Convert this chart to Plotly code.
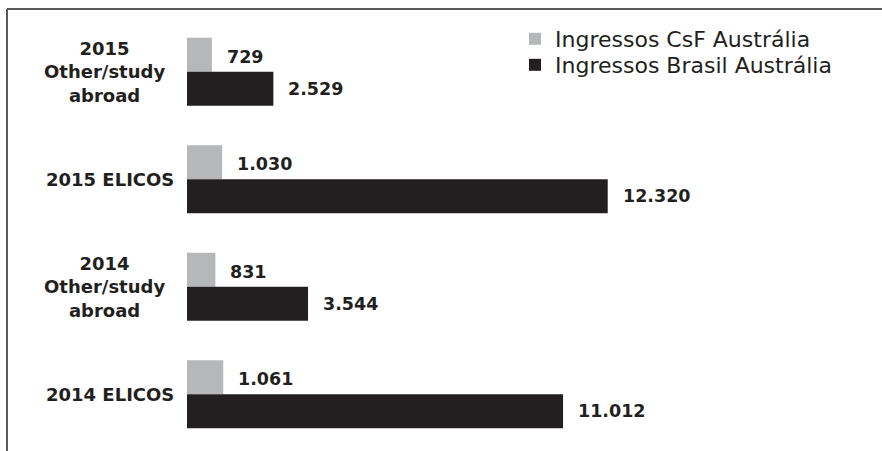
import plotly.graph_objects as go

# Categories, top to bottom
categories = [
    "2015<br>Other/study<br>abroad",
    "2015 ELICOS",
    "2014<br>Other/study<br>abroad",
    "2014 ELICOS",
]
series_names = ["Ingressos CsF Austrália", "Ingressos Brasil Austrália"]
csf_values = [729, 1030, 831, 1061]
brasil_values = [2529, 12320, 3544, 11012]

W, H = 882, 451
M = dict(l=187, r=12, t=18, b=3)
PW = W - M["l"] - M["r"]
PH = H - M["t"] - M["b"]

TEXT = "#231f20"
GRAY = "#b6b7b9"
DARK = "#231f20"
FONT = "DejaVu Sans"


def fmt(v):
    # thousands separated with a dot
    return f"{v:,}".replace(",", ".")


def px_x(px):
    return (px - M["l"]) / PW


def px_y(py):
    return 1 - (py - M["t"]) / PH


fig = go.Figure()
fig.add_trace(go.Bar(
    y=categories, x=csf_values, orientation="h", name=series_names[0],
    marker=dict(color=GRAY, line=dict(width=0)), legend="legend",
    hoverinfo="x+name",
))
fig.add_trace(go.Bar(
    y=categories, x=brasil_values, orientation="h", name=series_names[1],
    marker=dict(color=DARK, line=dict(width=0)), legend="legend2",
    hoverinfo="x+name",
))

annotations = []
# value labels beside each bar
for cat, v in zip(categories, csf_values):
    annotations.append(dict(
        x=v, y=cat, xref="x", yref="y", text=f"<b>{fmt(v)}</b>",
        showarrow=False, xanchor="left", yanchor="middle",
        xshift=13, yshift=15,
        font=dict(family=FONT, size=17.5, color=TEXT),
    ))
for cat, v in zip(categories, brasil_values):
    annotations.append(dict(
        x=v, y=cat, xref="x", yref="y", text=f"<b>{fmt(v)}</b>",
        showarrow=False, xanchor="left", yanchor="middle",
        xshift=13, yshift=-17,
        font=dict(family=FONT, size=17.5, color=TEXT),
    ))
# category labels, centred text
for cat in categories:
    centre = 104 if "<br>" in cat else 110
    annotations.append(dict(
        x=0, y=cat, xref="paper", yref="y", text=f"<b>{cat}</b>",
        showarrow=False, xanchor="center", yanchor="middle", align="center",
        xshift=centre - M["l"],
        font=dict(family=FONT, size=18, color=TEXT),
    ))

# frame lines along the top and left
frame = dict(color="#5a5a5a", width=2)
shapes = [
    dict(type="line", xref="paper", yref="paper",
         x0=px_x(7), x1=px_x(W + 5), y0=px_y(9), y1=px_y(9), line=frame),
    dict(type="line", xref="paper", yref="paper",
         x0=px_x(7), x1=px_x(7), y0=px_y(9), y1=px_y(H + 5), line=frame),
]

legend_common = dict(
    xanchor="left", yanchor="middle", bgcolor="rgba(0,0,0,0)",
    font=dict(family=FONT, size=22, color=TEXT), borderwidth=0,
    itemclick=False, itemdoubleclick=False,
)

fig.update_layout(
    width=W, height=H, margin=M,
    paper_bgcolor="white", plot_bgcolor="white",
    barmode="group", bargap=0.367, bargroupgap=0,
    showlegend=True,
    legend=dict(x=px_x(515), y=px_y(39), **legend_common),
    legend2=dict(x=px_x(515), y=px_y(65), **legend_common),
    xaxis=dict(range=[0, 20000], visible=False, fixedrange=True),
    yaxis=dict(categoryorder="array", categoryarray=categories,
               autorange="reversed", showticklabels=False, showgrid=False,
               zeroline=False, showline=False, ticks="", fixedrange=True),
    annotations=annotations, shapes=shapes,
)

fig.write_html("out.html", config={"displayModeBar": False})
